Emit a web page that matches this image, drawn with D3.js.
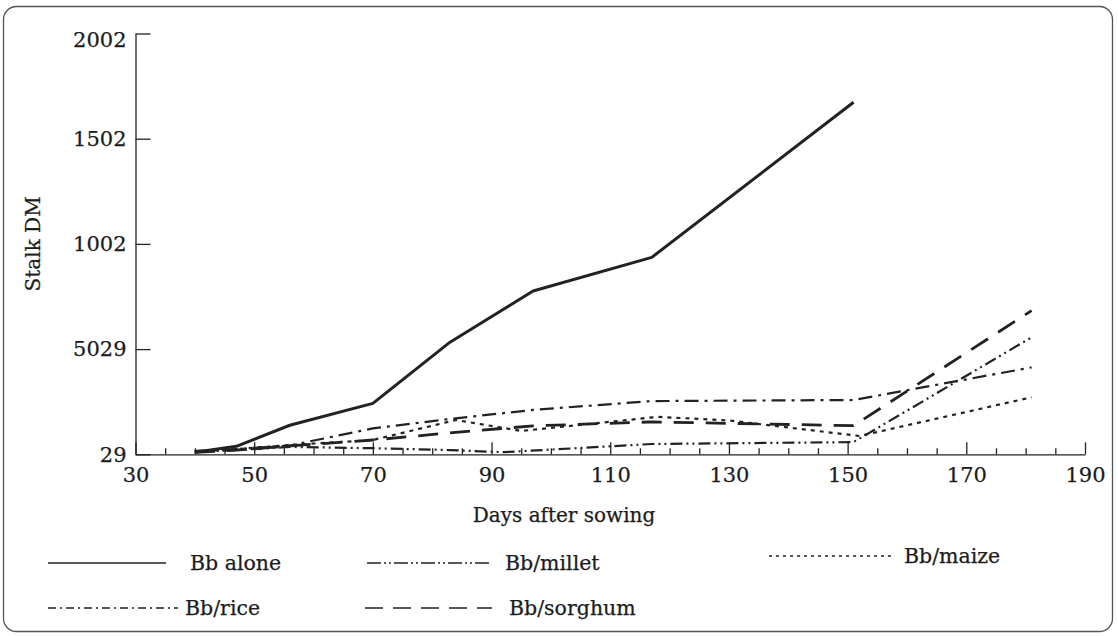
<!DOCTYPE html>
<html>
<head>
<meta charset="utf-8">
<script src="https://cdn.jsdelivr.net/npm/d3@7"></script>
<style>
  html, body { margin: 0; padding: 0; background: #fff; }
  svg { display: block; }
  text { font-family: "DejaVu Serif", "Liberation Serif", serif; fill: #1c1c1c; stroke: #1c1c1c; stroke-width: 0.25px; }
</style>
</head>
<body>
<svg id="chart" width="1118" height="636"></svg>
<script>
// Stalk dry matter over days after sowing, one array pair per treatment
const daysAlone   = [40, 47, 56, 70, 83, 97, 117, 151];
const bbAlone     = [12, 40, 140, 244, 535, 778, 938, 1675];

const daysMillet  = [40, 47, 56, 70, 83, 92, 117, 151, 181];
const bbMillet    = [13, 22, 37, 31, 22, 12, 51, 60, 558];

const daysMaize   = [40, 47, 56, 70, 84, 95, 118, 130, 152, 181];
const bbMaize     = [13, 27, 46, 70, 165, 113, 180, 163, 89, 273];

const daysRice    = [40, 47, 56, 70, 83, 97, 117, 151, 181];
const bbRice      = [18, 27, 44, 125, 170, 213, 255, 260, 415];

const daysSorghum = [40, 47, 56, 70, 83, 97, 117, 151, 181];
const bbSorghum   = [11, 22, 42, 70, 104, 137, 156, 138, 685];

const seriesNames = ["Bb alone", "Bb/millet", "Bb/maize", "Bb/rice", "Bb/sorghum"];

// Axis ticks and their printed labels
const xMajorTicks = [30, 50, 70, 90, 110, 130, 150, 170, 190];
const xMinorTicks = d3.range(35, 190, 5).filter(d => (d - 30) % 20 !== 0);
const yTickValues = [2, 502, 1002, 1502, 2002];
const yTickLabels = ["29", "5029", "1002", "1502", "2002"];

const xTitle = "Days after sowing";
const yTitle = "Stalk DM";

const svg = d3.select("#chart");

// rounded outer frame
svg.append("rect")
  .attr("x", 3.5).attr("y", 6.5)
  .attr("width", 1109).attr("height", 625)
  .attr("rx", 13).attr("ry", 13)
  .attr("fill", "none").attr("stroke", "#555").attr("stroke-width", 1.3);

const x = d3.scaleLinear().domain([30, 190]).range([135.5, 1085]);
const y = d3.scaleLinear().domain([2, 2002]).range([454.3, 33.5]);

// x axis: minor ticks every 5 days, labelled majors every 20
const gxMinor = svg.append("g").attr("transform", `translate(0,${y(2)})`)
  .call(d3.axisBottom(x).tickValues(xMinorTicks).tickSizeInner(-6).tickSizeOuter(0).tickFormat(""));
gxMinor.select(".domain").remove();

const gx = svg.append("g").attr("transform", `translate(0,${y(2)})`)
  .call(d3.axisBottom(x).tickValues(xMajorTicks).tickSizeInner(-12).tickSizeOuter(0).tickPadding(13)
    .tickFormat(d => String(d)));
gx.selectAll("text").attr("font-size", 21).attr("font-family", "DejaVu Serif").attr("fill", "#1c1c1c");

// y axis with ticks pointing into the plot
const gy = svg.append("g").attr("transform", `translate(${x(30)},0)`)
  .call(d3.axisLeft(y).tickValues(yTickValues).tickSizeInner(-15).tickSizeOuter(0).tickPadding(9)
    .tickFormat((d, i) => yTickLabels[i]));
gy.selectAll("text").attr("font-size", 21).attr("font-family", "DejaVu Serif").attr("fill", "#1c1c1c");
gy.selectAll(".tick text").filter(d => d === 2002).attr("dy", "0.62em");

svg.selectAll(".domain, .tick line").attr("stroke", "#222").attr("stroke-width", 1.3);

// axis titles
svg.append("text")
  .attr("x", 564).attr("y", 522)
  .attr("text-anchor", "middle").attr("font-size", 20)
  .text(xTitle);

svg.append("text")
  .attr("transform", `translate(40,${y(1002)}) rotate(-90)`)
  .attr("text-anchor", "middle").attr("font-size", 20)
  .text(yTitle);

// series lines
const styles = {
  "Bb alone":   { w: 3,   dash: null,             lw: 1.5, ldash: null },
  "Bb/millet":  { w: 2.2, dash: "12,4,2,4,2,4",   lw: 1.3, ldash: "14,3,2,3,2,3" },
  "Bb/maize":   { w: 2.2, dash: "4,5",            lw: 1.3, ldash: "3,4" },
  "Bb/rice":    { w: 2.2, dash: "14,6,3,6",       lw: 1.3, ldash: "8,4,2,4" },
  "Bb/sorghum": { w: 2.8, dash: "20,12",          lw: 1.6, ldash: "18,10" }
};

const seriesData = [
  [seriesNames[0], daysAlone, bbAlone],
  [seriesNames[1], daysMillet, bbMillet],
  [seriesNames[2], daysMaize, bbMaize],
  [seriesNames[3], daysRice, bbRice],
  [seriesNames[4], daysSorghum, bbSorghum]
].map(([name, days, vals]) => ({ name, pts: days.map((d, i) => [d, vals[i]]) }));

const line = d3.line().x(d => x(d[0])).y(d => y(d[1]));

svg.append("g").selectAll("path")
  .data(seriesData)
  .join("path")
  .attr("d", d => line(d.pts))
  .attr("fill", "none")
  .attr("stroke", "#222")
  .attr("stroke-width", d => styles[d.name].w)
  .attr("stroke-dasharray", d => styles[d.name].dash)
  .attr("stroke-linejoin", "round");

// legend
const legendLayout = [
  { name: "Bb alone",   x1: 48,  x2: 166, ty: 563, tx: 190 },
  { name: "Bb/millet",  x1: 367, x2: 492, ty: 563, tx: 505 },
  { name: "Bb/maize",   x1: 769, x2: 895, ty: 556, tx: 904 },
  { name: "Bb/rice",    x1: 48,  x2: 178, ty: 608, tx: 185 },
  { name: "Bb/sorghum", x1: 365, x2: 492, ty: 608, tx: 509 }
];

const lg = svg.append("g").selectAll("g").data(legendLayout).join("g");
lg.append("line")
  .attr("x1", d => d.x1).attr("x2", d => d.x2)
  .attr("y1", d => d.ty).attr("y2", d => d.ty)
  .attr("stroke", "#222")
  .attr("stroke-width", d => styles[d.name].lw)
  .attr("stroke-dasharray", d => styles[d.name].ldash);
lg.append("text")
  .attr("x", d => d.tx).attr("y", d => d.ty)
  .attr("dy", "0.35em").attr("font-size", 20.5)
  .text(d => d.name);
</script>
</body>
</html>
